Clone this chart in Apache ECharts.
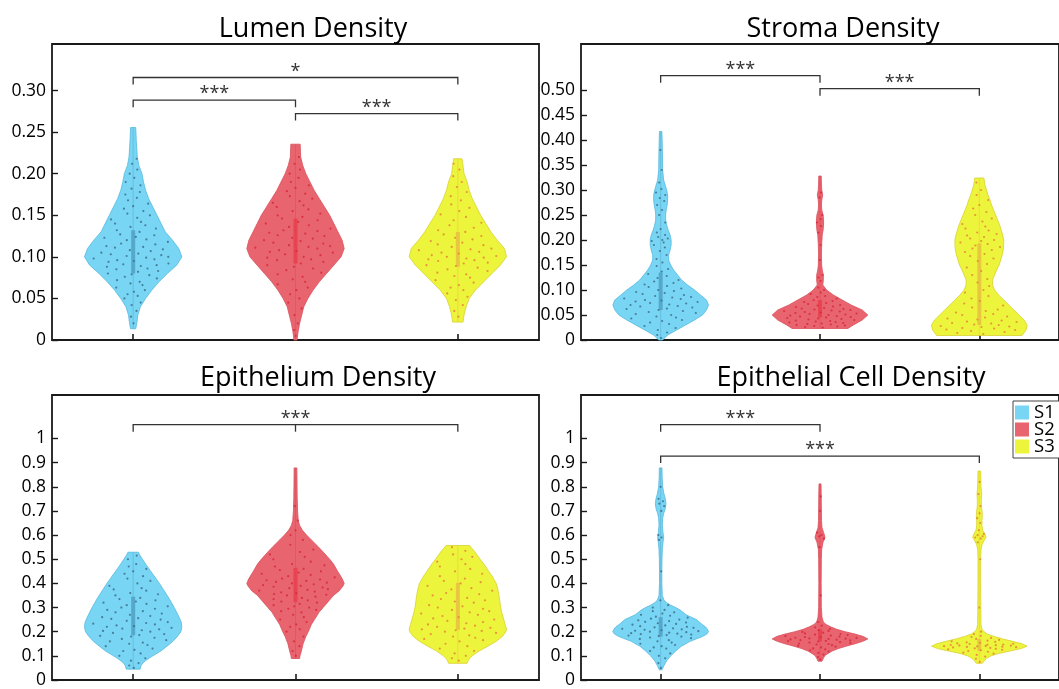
<!DOCTYPE html>
<html><head><meta charset="utf-8">
<script src="https://cdn.jsdelivr.net/npm/echarts@6/dist/echarts.min.js"></script>
<style>html,body{margin:0;padding:0;background:#fff}#c{width:1059px;height:689px}</style>
</head><body><div id="c"></div>
<script>
// ---------- DATA ----------
const groups = ['S1', 'S2', 'S3'];
const titles = ['Lumen Density', 'Stroma Density', 'Epithelium Density', 'Epithelial Cell Density'];
const yMax = [0.356, 0.592, 1.18, 1.18];

const ticksA = [0, 0.05, 0.10, 0.15, 0.20, 0.25, 0.30];
const labelsA = ['0', '0.05', '0.10', '0.15', '0.20', '0.25', '0.30'];
const ticksB = [0, 0.05, 0.10, 0.15, 0.20, 0.25, 0.30, 0.35, 0.40, 0.45, 0.50];
const labelsB = ['0', '0.05', '0.10', '0.15', '0.20', '0.25', '0.30', '0.35', '0.40', '0.45', '0.50'];
const ticksC = [0, 0.1, 0.2, 0.3, 0.4, 0.5, 0.6, 0.7, 0.8, 0.9, 1];
const labelsC = ['0', '0.1', '0.2', '0.3', '0.4', '0.5', '0.6', '0.7', '0.8', '0.9', '1'];

// density profiles: [value, relative density]
const lumenS1 = [[0.0135,2.5],[0.02,3.5],[0.03,4.5],[0.04,7],[0.05,12],[0.06,18],[0.07,25],[0.08,33],[0.09,42],[0.10,47],[0.11,44],[0.12,38],[0.13,31],[0.14,27],[0.15,23],[0.16,19],[0.17,15],[0.18,12],[0.19,10],[0.20,8.5],[0.21,5.5],[0.22,4],[0.24,3],[0.2555,2.5]];
const lumenS2 = [[0.0,1.5],[0.01,2.5],[0.02,4],[0.03,6],[0.04,8],[0.05,12],[0.06,17],[0.07,23],[0.08,30],[0.09,37],[0.10,44],[0.11,47],[0.12,45],[0.13,41],[0.14,37],[0.15,33],[0.16,28],[0.17,23],[0.18,18],[0.19,14],[0.20,10],[0.21,7],[0.22,5],[0.2355,4.5]];
const lumenS3 = [[0.0215,5],[0.03,6],[0.04,8],[0.05,11],[0.06,17],[0.07,25],[0.08,33],[0.09,41],[0.10,47],[0.11,45],[0.12,38],[0.13,32],[0.14,27],[0.15,22],[0.16,18],[0.17,14],[0.18,11],[0.19,9],[0.20,6],[0.21,5],[0.218,4]];

const stromaS1 = [[0,2],[0.01,7],[0.02,16],[0.03,25],[0.04,34],[0.05,42],[0.06,46],[0.07,48],[0.08,46],[0.09,40],[0.10,34],[0.11,27],[0.12,21],[0.13,17],[0.14,13],[0.15,10],[0.16,8],[0.17,8],[0.18,9.5],[0.19,10.5],[0.20,10.5],[0.21,9.5],[0.22,7.5],[0.23,6],[0.24,5],[0.25,5],[0.26,5.5],[0.27,6.5],[0.28,7],[0.29,7],[0.30,6],[0.31,4.5],[0.32,3],[0.34,2],[0.37,1.8],[0.40,1.5],[0.417,1.2]];
const stromaS2 = [[0.023,25],[0.03,30],[0.04,38],[0.05,43],[0.06,38],[0.07,28],[0.08,20],[0.09,12],[0.10,6],[0.11,2.5],[0.12,3],[0.13,3],[0.14,2],[0.15,1.5],[0.17,1.3],[0.19,1.5],[0.21,2],[0.22,2.8],[0.23,3.2],[0.24,3.2],[0.25,2.8],[0.26,1.6],[0.27,1.3],[0.28,1.6],[0.29,2.4],[0.30,1.6],[0.31,1.3],[0.328,1.1]];
const stromaS3 = [[0.009,42],[0.02,46],[0.03,47],[0.04,44],[0.05,39],[0.06,34],[0.07,29],[0.08,24],[0.09,19],[0.10,15],[0.11,13],[0.12,13],[0.13,15],[0.14,17],[0.15,19.5],[0.16,21],[0.17,22.5],[0.18,23.5],[0.19,24],[0.20,24],[0.21,23],[0.22,21.5],[0.23,20],[0.24,18],[0.25,16],[0.26,14],[0.27,12],[0.28,10.5],[0.29,8.5],[0.30,7],[0.31,5.5],[0.324,4.5]];

const epiS1 = [[0.045,20],[0.06,23],[0.07,28],[0.08,36],[0.09,46],[0.10,57],[0.12,80],[0.14,98],[0.16,115],[0.18,128],[0.20,138],[0.22,141],[0.24,139],[0.26,133],[0.28,126],[0.30,119],[0.32,111],[0.34,103],[0.36,94],[0.38,85],[0.40,76],[0.42,66],[0.44,56],[0.46,46],[0.48,36],[0.50,27],[0.515,20],[0.529,15]];
const epiS2 = [[0.089,12],[0.10,13],[0.12,17],[0.15,22],[0.18,30],[0.20,37],[0.23,46],[0.25,55],[0.28,68],[0.30,80],[0.33,98],[0.35,110],[0.37,127],[0.39,138],[0.40,141],[0.42,135],[0.45,122],[0.48,110],[0.50,99],[0.53,80],[0.55,67],[0.58,46],[0.60,32],[0.62,20],[0.64,12],[0.66,8],[0.70,6],[0.75,5],[0.80,4.5],[0.878,4]];
const epiS3 = [[0.069,27],[0.08,30],[0.09,35],[0.10,42],[0.12,62],[0.14,88],[0.16,112],[0.18,130],[0.20,140],[0.21,142],[0.23,138],[0.25,134],[0.28,128],[0.30,125],[0.33,122],[0.35,120],[0.38,116],[0.40,112],[0.43,100],[0.45,90],[0.48,76],[0.50,65],[0.53,50],[0.557,34]];

const cellS1 = [[0.042,4],[0.06,10],[0.08,18],[0.10,30],[0.12,45],[0.14,62],[0.16,88],[0.18,125],[0.19,138],[0.20,143],[0.21,140],[0.22,134],[0.23,124],[0.25,107],[0.27,76],[0.29,58],[0.30,45],[0.31,30],[0.32,18],[0.33,10],[0.35,5],[0.40,3.5],[0.45,3.5],[0.50,4],[0.54,5],[0.57,7],[0.59,9],[0.61,7],[0.64,5],[0.67,6],[0.69,9],[0.71,14],[0.73,16],[0.75,14],[0.77,10],[0.80,6],[0.84,4.5],[0.878,4]];
const cellS2 = [[0.078,6],[0.09,10],[0.10,14],[0.11,24],[0.12,36],[0.13,55],[0.14,78],[0.15,105],[0.16,128],[0.17,143],[0.18,130],[0.19,105],[0.20,75],[0.21,50],[0.22,32],[0.23,18],[0.24,10],[0.26,6],[0.30,4],[0.40,3.5],[0.50,4],[0.54,5],[0.57,9],[0.59,15],[0.61,11],[0.63,6],[0.66,4.5],[0.72,4],[0.78,3.5],[0.812,3]];
const cellS3 = [[0.069,9],[0.08,15],[0.09,22],[0.10,35],[0.11,58],[0.12,92],[0.13,125],[0.14,143],[0.15,128],[0.16,100],[0.17,70],[0.18,45],[0.19,24],[0.20,14],[0.21,8],[0.23,5],[0.30,4.5],[0.40,4],[0.50,4],[0.54,5],[0.56,8],[0.58,15],[0.59,20],[0.60,18],[0.62,10],[0.64,8],[0.66,8],[0.68,9],[0.70,8],[0.72,6],[0.75,6],[0.77,7],[0.80,5],[0.84,4.5],[0.865,4]];

// interquartile ranges [q1, q3]
const lumenIQR = [[0.08,0.132],[0.092,0.146],[0.088,0.13]];
const stromaIQR = [[0.06,0.135],[0.045,0.08],[0.03,0.193]];
const epiIQR = [[0.185,0.345],[0.322,0.464],[0.208,0.402]];
const cellIQR = [[0.18,0.26],[0.16,0.21],[0.12,0.17]];

// individual observations (values)
const lumenS1Dots = [0.02,0.028,0.035,0.042,0.045,0.05,0.053,0.055,0.058,0.06,0.063,0.066,0.068,0.07,0.072,0.074,0.076,0.078,0.079,0.08,0.082,0.083,0.085,0.086,0.088,0.089,0.09,0.091,0.092,0.094,0.095,0.096,0.097,0.098,0.099,0.1,0.101,0.102,0.103,0.104,0.105,0.107,0.108,0.109,0.111,0.112,0.113,0.115,0.116,0.118,0.12,0.121,0.123,0.124,0.126,0.127,0.13,0.132,0.134,0.136,0.138,0.14,0.142,0.145,0.147,0.15,0.152,0.155,0.158,0.161,0.164,0.168,0.171,0.175,0.178,0.182,0.186,0.19,0.195,0.2,0.205,0.212,0.218];
const lumenS2Dots = [0.005,0.012,0.02,0.03,0.038,0.045,0.05,0.055,0.06,0.063,0.067,0.07,0.073,0.076,0.079,0.081,0.084,0.086,0.088,0.09,0.092,0.094,0.096,0.097,0.099,0.1,0.102,0.103,0.105,0.106,0.107,0.108,0.11,0.111,0.112,0.113,0.114,0.116,0.117,0.119,0.12,0.122,0.123,0.125,0.126,0.128,0.129,0.131,0.132,0.134,0.136,0.138,0.14,0.142,0.144,0.146,0.148,0.15,0.152,0.155,0.157,0.16,0.162,0.165,0.167,0.17,0.173,0.176,0.179,0.183,0.186,0.19,0.195,0.2,0.205,0.212,0.22];
const lumenS3Dots = [0.028,0.035,0.042,0.048,0.052,0.056,0.06,0.063,0.066,0.069,0.072,0.075,0.077,0.079,0.081,0.083,0.085,0.087,0.089,0.09,0.092,0.093,0.095,0.096,0.097,0.098,0.099,0.1,0.101,0.102,0.104,0.105,0.106,0.108,0.109,0.11,0.112,0.114,0.115,0.117,0.119,0.121,0.123,0.125,0.127,0.13,0.132,0.135,0.138,0.141,0.144,0.148,0.151,0.155,0.159,0.163,0.168,0.173,0.178,0.184,0.19,0.197,0.205,0.212];
const stromaS1Dots = [0.004,0.01,0.015,0.02,0.024,0.028,0.032,0.035,0.038,0.04,0.043,0.045,0.047,0.05,0.052,0.054,0.056,0.058,0.06,0.062,0.063,0.065,0.067,0.068,0.07,0.071,0.073,0.074,0.076,0.077,0.079,0.08,0.082,0.083,0.085,0.086,0.088,0.09,0.092,0.094,0.096,0.098,0.1,0.103,0.106,0.108,0.111,0.114,0.117,0.12,0.124,0.128,0.132,0.137,0.142,0.148,0.155,0.162,0.17,0.178,0.185,0.19,0.195,0.198,0.2,0.203,0.206,0.21,0.215,0.222,0.235,0.25,0.26,0.27,0.278,0.284,0.29,0.295,0.302,0.315,0.34,0.38];
const stromaS2Dots = [0.025,0.026,0.027,0.028,0.029,0.03,0.031,0.032,0.033,0.034,0.035,0.036,0.037,0.038,0.039,0.04,0.041,0.042,0.043,0.044,0.045,0.046,0.047,0.048,0.049,0.05,0.051,0.052,0.053,0.054,0.055,0.056,0.057,0.058,0.059,0.06,0.061,0.062,0.063,0.064,0.066,0.067,0.069,0.07,0.072,0.074,0.076,0.078,0.08,0.083,0.086,0.088,0.092,0.095,0.1,0.105,0.118,0.125,0.13,0.16,0.19,0.215,0.228,0.235,0.242,0.25,0.285,0.295];
const stromaS3Dots = [0.012,0.014,0.016,0.018,0.02,0.021,0.023,0.024,0.026,0.027,0.028,0.03,0.031,0.033,0.034,0.036,0.037,0.039,0.041,0.043,0.045,0.047,0.05,0.052,0.055,0.058,0.061,0.065,0.069,0.073,0.078,0.083,0.088,0.095,0.1,0.108,0.115,0.122,0.13,0.138,0.145,0.152,0.158,0.163,0.168,0.172,0.176,0.18,0.183,0.186,0.189,0.192,0.195,0.198,0.2,0.203,0.206,0.209,0.212,0.215,0.219,0.223,0.227,0.232,0.237,0.243,0.25,0.256,0.263,0.27,0.28,0.29,0.3,0.315];
const epiS1Dots = [0.05,0.06,0.07,0.08,0.09,0.1,0.11,0.12,0.125,0.13,0.14,0.145,0.15,0.155,0.16,0.165,0.17,0.175,0.18,0.183,0.186,0.19,0.195,0.2,0.203,0.206,0.21,0.213,0.216,0.22,0.223,0.226,0.23,0.233,0.236,0.24,0.245,0.25,0.253,0.256,0.26,0.265,0.27,0.275,0.28,0.285,0.29,0.295,0.3,0.305,0.31,0.315,0.32,0.325,0.33,0.335,0.34,0.35,0.355,0.36,0.37,0.375,0.38,0.39,0.4,0.41,0.42,0.43,0.44,0.45,0.46,0.47,0.48,0.5,0.515];
const epiS2Dots = [0.1,0.12,0.14,0.16,0.18,0.2,0.21,0.22,0.23,0.24,0.25,0.26,0.27,0.28,0.285,0.29,0.295,0.3,0.305,0.31,0.315,0.32,0.325,0.33,0.335,0.34,0.345,0.35,0.353,0.356,0.36,0.363,0.366,0.37,0.373,0.376,0.38,0.383,0.386,0.39,0.393,0.396,0.4,0.403,0.406,0.41,0.413,0.416,0.42,0.425,0.43,0.435,0.44,0.445,0.45,0.455,0.46,0.47,0.475,0.48,0.49,0.5,0.51,0.52,0.53,0.54,0.56,0.58,0.6,0.62,0.66,0.72];
const epiS3Dots = [0.08,0.09,0.1,0.11,0.12,0.13,0.14,0.15,0.16,0.165,0.17,0.175,0.18,0.185,0.19,0.195,0.2,0.203,0.206,0.21,0.213,0.216,0.22,0.225,0.23,0.235,0.24,0.245,0.25,0.255,0.26,0.265,0.27,0.275,0.28,0.285,0.29,0.295,0.3,0.305,0.31,0.32,0.325,0.33,0.335,0.34,0.35,0.355,0.36,0.37,0.375,0.38,0.39,0.4,0.405,0.41,0.42,0.43,0.44,0.45,0.46,0.47,0.48,0.49,0.5,0.51,0.52,0.535,0.55];
const cellS1Dots = [0.05,0.07,0.09,0.1,0.11,0.12,0.13,0.135,0.14,0.145,0.15,0.155,0.16,0.165,0.17,0.173,0.176,0.18,0.182,0.184,0.186,0.188,0.19,0.192,0.194,0.196,0.198,0.2,0.202,0.204,0.206,0.208,0.21,0.212,0.214,0.216,0.218,0.22,0.223,0.226,0.229,0.232,0.235,0.238,0.241,0.244,0.247,0.25,0.254,0.258,0.262,0.266,0.27,0.275,0.28,0.285,0.29,0.3,0.31,0.33,0.45,0.58,0.59,0.6,0.7,0.72,0.73,0.74,0.75,0.8];
const cellS2Dots = [0.085,0.095,0.105,0.112,0.118,0.123,0.127,0.131,0.135,0.138,0.141,0.144,0.147,0.149,0.151,0.153,0.155,0.157,0.159,0.161,0.162,0.164,0.165,0.167,0.168,0.17,0.171,0.172,0.174,0.175,0.177,0.178,0.18,0.182,0.184,0.186,0.188,0.19,0.193,0.196,0.199,0.203,0.207,0.212,0.218,0.225,0.24,0.35,0.55,0.585,0.595,0.6,0.61,0.7,0.76];
const cellS3Dots = [0.075,0.088,0.097,0.104,0.109,0.113,0.117,0.12,0.123,0.125,0.127,0.129,0.131,0.133,0.135,0.136,0.137,0.138,0.139,0.14,0.141,0.142,0.143,0.144,0.145,0.146,0.147,0.149,0.15,0.152,0.154,0.156,0.158,0.16,0.163,0.166,0.17,0.174,0.178,0.183,0.19,0.2,0.3,0.5,0.57,0.585,0.59,0.595,0.6,0.605,0.62,0.65,0.67,0.69,0.72,0.77,0.82];
// hand-set horizontal spread of observations (fraction of local violin half-width)
const jitter = [0.1,-0.55,0.62,-0.2,0.85,-0.78,0.35,-0.4,0.05,0.7,-0.9,0.45,-0.12,0.28,-0.65,0.9,-0.3,0.55,-0.05,-0.82,0.15,0.75,-0.48,0.4,-0.7,0.2,0.6,-0.25,0.88,-0.6,0.02,-0.38,0.5,-0.92,0.3,0.8,-0.15,0.65,-0.52,0.12,-0.75,0.42,-0.08,0.72,-0.45,0.25,-0.68,0.58,-0.32,0.95,-0.18,0.38,-0.86,0.08,0.67,-0.42,0.22,-0.58,0.83,-0.1,0.47,-0.72,0.32,-0.95,0.18,0.78,-0.28,0.52,-0.5,0.0,0.92,-0.35,0.27,-0.62,0.57,-0.15,0.73,-0.8,0.13,-0.44,0.63,-0.22,0.87,-0.66,0.36,-0.03,0.5,-0.88,0.24,0.69,-0.53,0.06,-0.3,0.81,-0.7,0.43,-0.16];

// significance brackets: [from group, to group, level, label, middle tick]
const lumenBrackets = [[1,3,0.3157,'*'],[1,2,0.2884,'***'],[2,3,0.2723,'***']];
const stromaBrackets = [[1,2,0.5286,'***'],[2,3,0.5027,'***']];
const epiBrackets = [[1,3,1.057,'***',true]];
const cellBrackets = [[1,2,1.057,'***'],[1,3,0.927,'***']];

// ---------- ASSEMBLY ----------
const panels = [
  {profiles:[lumenS1,lumenS2,lumenS3], dots:[lumenS1Dots,lumenS2Dots,lumenS3Dots], iqr:lumenIQR, brackets:lumenBrackets, ticks:ticksA, labels:labelsA},
  {profiles:[stromaS1,stromaS2,stromaS3], dots:[stromaS1Dots,stromaS2Dots,stromaS3Dots], iqr:stromaIQR, brackets:stromaBrackets, ticks:ticksB, labels:labelsB},
  {profiles:[epiS1,epiS2,epiS3], dots:[epiS1Dots,epiS2Dots,epiS3Dots], iqr:epiIQR, brackets:epiBrackets, ticks:ticksC, labels:labelsC},
  {profiles:[cellS1,cellS2,cellS3], dots:[cellS1Dots,cellS2Dots,cellS3Dots], iqr:cellIQR, brackets:cellBrackets, ticks:ticksC, labels:labelsC}
];
const gridPos = [
  {left:52, top:44, width:487, height:296},
  {left:581, top:44, width:487, height:296},
  {left:52, top:395, width:487, height:296},
  {left:581, top:395, width:487, height:296}
];
const titlePos = [{x:308,y:11},{x:838,y:11},{x:313,y:360},{x:846,y:360}];
const fills = ['#78D5F4', '#E8646F', '#EDF43C'];
const edges = ['#56B9DE', '#D9505C', '#D8D230'];
const bars = ['#53A4C8', '#E8404F', '#E8C240'];
const dotColors = ['#3E6E8A', '#D8283C', '#E8823A'];
const HALF = 0.30;
const FONT = 'Open Sans';

function halfAt(profile, y) {
  if (y <= profile[0][0]) return profile[0][1];
  for (let i = 1; i < profile.length; i++) {
    if (y <= profile[i][0]) {
      const [y0, w0] = profile[i-1], [y1, w1] = profile[i];
      return w0 + (w1 - w0) * (y - y0) / (y1 - y0);
    }
  }
  return profile[profile.length-1][1];
}

const grid = [], xAxis = [], yAxis = [], series = [], title = [];
panels.forEach((P, p) => {
  grid.push(Object.assign({show:true, borderColor:'#1a1a1a', borderWidth:1.8, backgroundColor:'transparent'}, gridPos[p]));
  title.push({text: titles[p], left: titlePos[p].x, top: titlePos[p].y, textAlign:'center',
    textStyle:{fontFamily:FONT, fontSize:27, fontWeight:'normal', color:'#000'}});
  xAxis.push({gridIndex:p, type:'value', min:0.5, max:3.5,
    axisLine:{show:false}, splitLine:{show:false}, axisLabel:{show:false},
    axisTick:{show:true, inside:true, length:6, customValues:[1,2,3], lineStyle:{color:'#1a1a1a', width:1.6}}});
  yAxis.push({gridIndex:p, type:'value', min:0, max:yMax[p],
    axisLine:{show:false}, splitLine:{show:false},
    axisTick:{show:true, inside:true, length:6, customValues:P.ticks, lineStyle:{color:'#1a1a1a', width:1.4}},
    axisLabel:{show:true, customValues:P.ticks, margin:6, fontFamily:FONT, fontSize:17.5, color:'#000',
      formatter: v => { const i = P.ticks.indexOf(v); return i >= 0 ? P.labels[i] : ''; }}});

  P.profiles.forEach((prof, g) => {
    const maxW = Math.max(...prof.map(d => d[1]));
    const xc = g + 1;
    series.push({
      type:'custom', name: groups[g], xAxisIndex:p, yAxisIndex:p, clip:false, z:2,
      itemStyle:{color: fills[g]},
      data:[[xc, prof[0][0]]],
      renderItem: (params, api) => {
        const pts = [];
        prof.forEach(([y, w]) => pts.push(api.coord([xc + w / maxW * HALF, y])));
        for (let i = prof.length - 1; i >= 0; i--) pts.push(api.coord([xc - prof[i][1] / maxW * HALF, prof[i][0]]));
        const top = api.coord([xc, prof[prof.length-1][0]]), bot = api.coord([xc, prof[0][0]]);
        const q1 = api.coord([xc, P.iqr[g][0]]), q3 = api.coord([xc, P.iqr[g][1]]);
        return {type:'group', children:[
          {type:'polygon', shape:{points:pts}, style:{fill:fills[g], stroke:edges[g], lineWidth:0.8}},
          {type:'line', shape:{x1:top[0], y1:top[1], x2:bot[0], y2:bot[1]}, style:{stroke:bars[g], lineWidth:1, opacity:0.45}},
          {type:'rect', shape:{x:q3[0]-2, y:q3[1], width:4, height:q1[1]-q3[1]}, style:{fill:bars[g], opacity:0.9}}
        ]};
      }
    });
    series.push({
      type:'scatter', name: groups[g] + ' obs', xAxisIndex:p, yAxisIndex:p, z:3, silent:true,
      symbolSize:2.2, itemStyle:{color: dotColors[g], opacity:0.85},
      data: P.dots[g].map((y, i) => [xc + jitter[i % jitter.length] * 0.9 * halfAt(prof, y) / maxW * HALF, y])
    });
  });

  series.push({
    type:'custom', xAxisIndex:p, yAxisIndex:p, clip:false, z:4, silent:true,
    data: P.brackets.map(b => [b[0], b[2]]),
    renderItem: (params, api) => {
      const b = P.brackets[params.dataIndex];
      const a = api.coord([b[0], b[2]]), c = api.coord([b[1], b[2]]);
      const leg = 7;
      const ch = [
        {type:'polyline', shape:{points:[[a[0], a[1]+leg],[a[0], a[1]],[c[0], c[1]],[c[0], c[1]+leg]]}, style:{stroke:'#333', lineWidth:1.3, fill:null}},
        {type:'text', x:(a[0]+c[0])/2, y:a[1]-6, style:{text:b[3], fontFamily:FONT, fontSize:18, fill:'#333', align:'center', verticalAlign:'middle'}}
      ];
      if (b[4]) { const m = api.coord([(b[0]+b[1])/2, b[2]]); ch.push({type:'line', shape:{x1:m[0], y1:m[1], x2:m[0], y2:m[1]+leg}, style:{stroke:'#333', lineWidth:1.3}}); }
      return {type:'group', children:ch};
    }
  });
});

const chart = echarts.init(document.getElementById('c'), null, {renderer:'canvas'});
chart.setOption({
  animation:false,
  backgroundColor:'#fff',
  title, grid, xAxis, yAxis, series,
  legend:{data:groups, orient:'vertical', left:1013, top:401, icon:'rect', itemWidth:14, itemHeight:14, itemGap:-2,
    padding:[2,16,2,2], borderColor:'#444', borderWidth:1, backgroundColor:'#fff', selectedMode:false,
    textStyle:{fontFamily:FONT, fontSize:18.5, color:'#000'}}
});
</script></body></html>
